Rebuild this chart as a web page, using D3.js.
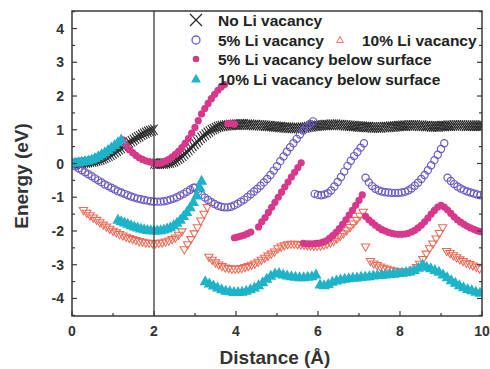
<!DOCTYPE html>
<html>
<head>
<meta charset="utf-8">
<script src="https://cdn.jsdelivr.net/npm/d3@7"></script>
<style>
  html, body { margin: 0; padding: 0; background: #fff; }
  svg { display: block; font-family: "Liberation Sans", Arial, sans-serif; }
</style>
</head>
<body>
<svg id="chart"></svg>
<script>
// every series is a list of runs: [start distance (Å), step, energies (eV)]
const noVacancy = [
  [0, 0.05, [0.00,0.00,0.00,0.01,0.01,0.02,0.03,0.03,0.04,0.05,0.06,0.07,0.09,0.10,0.12,0.15,0.17,0.20,0.23,0.26,
    0.30,0.34,0.38,0.42,0.46,0.50,0.54,0.58,0.62,0.66,0.70,0.74,0.78,0.81,0.85,0.88,0.91,0.94,0.96,0.98,1.00]],
  [2.0, 0.05, [0.00,-0.01,-0.01,-0.01,0.00,0.00,0.01,0.02,0.03,
    0.05,0.07,0.10,0.14,0.18,0.23,0.28,0.34,0.40,0.46,0.52,0.58,0.64,0.70,0.76,0.81,0.86,0.91,0.95,0.99,1.02,1.05,1.08,1.10,1.11,1.12,1.13,1.13,
    1.14,1.14,1.15,1.15,1.15,1.16,1.16,1.16,1.15,1.15,1.15,1.14,1.14,1.14,1.13,1.13,1.13,1.12,1.12,1.11,1.11,1.10,1.10,1.09,
    1.08,1.08,1.07,1.07,1.06,1.06,1.05,1.05,1.05,1.05,1.05,1.06,1.06,1.07,1.08,1.09,1.10,1.11,1.12,1.12,
    1.13,1.13,1.14,1.14,1.14,1.15,1.15,1.15,1.15,1.14,1.14,1.14,1.13,1.13,1.12,1.12,1.11,1.11,1.10,1.10,
    1.09,1.09,1.08,1.08,1.08,1.07,1.07,1.07,1.07,1.07,1.07,1.08,1.08,1.08,1.09,1.09,1.10,1.10,1.11,1.11,
    1.12,1.12,1.12,1.13,1.13,1.13,1.13,1.13,1.12,1.12,1.12,1.11,1.11,1.11,1.10,1.10,1.10,1.10,1.10,1.11,
    1.11,1.11,1.12,1.12,1.12,1.13,1.13,1.13,1.13,1.13,1.13,1.12,1.12,1.12,1.12,1.12,1.12,1.12,1.12,1.12]]
];

const vacancy5 = [
  [0, 0.08, [-0.02,-0.08,-0.14,-0.20,-0.26,-0.32,-0.38,-0.44,-0.50,-0.56,-0.62,-0.67,-0.72,-0.77,-0.82,-0.86,-0.90,-0.94,-0.98,
    -1.01,-1.04,-1.06,-1.08,-1.10,-1.12,-1.13,-1.13,-1.13,-1.12,-1.10,-1.07,-1.04,-1.00,-0.95,-0.90,-0.84,-0.78,-0.72]],
  [3.0, 0.08, [-0.72,-0.83,-0.93,-1.01,-1.08,-1.15,-1.20,-1.25,-1.28,-1.30,-1.30,-1.28,-1.24,-1.19,-1.13,-1.07,-0.99,-0.91,-0.83,
    -0.75,-0.66,-0.56,-0.46,-0.34,-0.21,-0.08,0.07,0.21,0.35,0.48,0.60,0.73,0.86,0.98,1.08,1.17,1.25]],
  [5.92, 0.08, [-0.90,-0.93,-0.94,-0.92,-0.88,-0.80,-0.68,-0.55,-0.40,-0.24,-0.07,0.08,0.22,0.34,0.47,0.60]],
  [7.16, 0.08, [-0.42,-0.56,-0.67,-0.75,-0.80,-0.83,-0.85,-0.86,-0.87,-0.87,-0.87,-0.86,-0.84,-0.80,-0.74,-0.66,-0.57,
    -0.46,-0.34,-0.20,-0.05,0.10,0.26,0.43,0.60]],
  [9.16, 0.08, [-0.42,-0.52,-0.61,-0.68,-0.74,-0.79,-0.83,-0.86,-0.89,-0.92,-0.94]]
];

const vacancy10 = [
  [0.28, 0.08, [-1.39,-1.47,-1.54,-1.61,-1.68,-1.75,-1.82,-1.88,-1.94,-2.00,-2.05,-2.10,-2.14,-2.18,-2.22,-2.25,-2.28,-2.31,
    -2.33,-2.35,-2.36,-2.37,-2.37,-2.36,-2.35,-2.32,-2.29,-2.25,-2.20,-2.12,-2.02]],
  [2.74, 0.08, [-2.55,-2.40,-2.25,-2.08,-1.90,-1.70,-1.50,-1.30]],
  [3.34, 0.08, [-2.77,-2.86,-2.94,-3.00,-3.05,-3.09,-3.11,-3.13,-3.13,-3.12,-3.11,-3.08,-3.05,-3.01,-2.97,-2.92,-2.86,-2.80,
    -2.74,-2.68,-2.62,-2.52,-2.47,-2.43,-2.40,-2.39,-2.39,-2.40,-2.41,-2.42,-2.43,-2.44,-2.45,-2.45,-2.44,-2.42,-2.39,-2.35,
    -2.30,-2.23,-2.16,-2.08,-1.99,-1.89,-1.79,-1.68,-1.56,-1.44]],
  [7.16, 0.08, [-2.47]],
  [7.28, 0.08, [-2.90,-2.97,-3.02,-3.06,-3.10,-3.13,-3.16,-3.18,-3.20,-3.21,-3.22,-3.22,-3.20,-3.15,-3.08,-2.98,-2.84,-2.68,
    -2.52,-2.38,-2.23,-2.07,-1.90]],
  [9.14, 0.08, [-2.60,-2.66,-2.73,-2.79,-2.85,-2.90,-2.95,-2.99,-3.03,-3.07,-3.12]]
];

const vacancy5Below = [
  [1.24, 0.08, [0.70,0.54,0.41,0.32,0.24,0.17,0.12,0.08,0.05,0.02,0.00,0.00,0.03,0.07,0.12,0.19,0.27,0.36,0.47,0.60,0.74,
    0.90,1.07,1.27,1.47,1.63,1.78,1.92,2.05,2.17,2.27,2.34]],
  [3.80, 0.08, [1.18,1.18,1.17]],
  [3.96, 0.08, [-2.20,-2.18,-2.15,-2.12,-2.08,-2.03]],
  [4.55, 0.08, [-1.88,-1.73,-1.60,-1.45,-1.30,-1.15,-1.00,-0.85,-0.70,-0.55,-0.40,-0.26,-0.12,0.02]],
  [5.64, 0.08, [-2.37,-2.38,-2.38,-2.38,-2.37,-2.36,-2.33,-2.29,-2.22,-2.14,-2.04,-1.93,-1.80,-1.67,-1.53,-1.39,-1.24,-1.09,-0.93]],
  [7.16, 0.08, [-1.57,-1.67,-1.75,-1.83,-1.90,-1.96,-2.00,-2.04,-2.07,-2.09,-2.10,-2.10,-2.09,-2.07,-2.03,-1.98,-1.91,-1.83,
    -1.73,-1.62,-1.50,-1.39,-1.29,-1.24,-1.29,-1.38,-1.48,-1.58,-1.67,-1.74,-1.80,-1.86,-1.91,-1.95,-1.99,-2.02]]
];

const vacancy10Below = [
  [0, 0.08, [0.02,0.02,0.03,0.04,0.06,0.08,0.11,0.15,0.20,0.26,0.32,0.39,0.46,0.54,0.62,0.70]],
  [1.12, 0.08, [-1.68,-1.72,-1.76,-1.80,-1.84,-1.88,-1.91,-1.94,-1.96,-1.98,-1.99,-2.00,-2.00,-1.99,-1.97,-1.94,-1.90,-1.84,
    -1.77,-1.68,-1.57,-1.45,-1.31,-1.15,-0.96,-0.72]],
  [3.16, 0.08, [-0.52]],
  [3.25, 0.1, [-3.50,-3.57,-3.63,-3.69,-3.74,-3.78,-3.80,-3.82,-3.82,-3.81,-3.78,-3.74,-3.69,-3.62,-3.53,-3.43,-3.34,-3.27,
    -3.26,-3.30,-3.33,-3.35,-3.37,-3.38,-3.38,-3.37,-3.35,-3.30,-3.60,-3.62,-3.58,-3.52,-3.48,-3.45,-3.43,-3.41,-3.40,-3.39,
    -3.37,-3.36,-3.35,-3.33,-3.32,-3.31,-3.30,-3.29,-3.28,-3.26,-3.25,-3.23,-3.21,-3.17,-3.10,-3.00,-3.07,-3.12,-3.17,-3.22,
    -3.30,-3.38,-3.47,-3.55,-3.62,-3.68,-3.73,-3.77,-3.81,-3.84]]
];

const seriesNames = [
  'No Li vacancy',
  '5% Li vacancy',
  '10% Li vacancy',
  '5% Li vacancy below surface',
  '10% Li vacancy below surface'
];
const xTicks = [0, 2, 4, 6, 8, 10];
const yTicks = [-4, -3, -2, -1, 0, 1, 2, 3, 4];

const width = 490;
const height = 369;
const margin = { top: 11, right: 8, bottom: 53, left: 72 };
const plotW = width - margin.left - margin.right;
const plotH = height - margin.top - margin.bottom;

const x = d3.scaleLinear().domain([0, 10]).range([margin.left, margin.left + plotW]);
const y = d3.scaleLinear().domain([-4.52, 4.52]).range([margin.top + plotH, margin.top]);

const toPoints = runs => runs.flatMap(([x0, dx, ys]) => ys.map((v, i) => ({ x: x0 + i * dx, y: v })));

// marker shapes
const shapes = {
  cross: 'M-3.6,-5.2L3.6,5.2M-3.6,5.2L3.6,-5.2',
  circle: d3.symbol().type(d3.symbolCircle).size(Math.PI * 3.6 * 3.6)(),
  triDown: 'M-4.2,-2.8L4.2,-2.8L0,4.4Z',
  dot: d3.symbol().type(d3.symbolCircle).size(Math.PI * 3.6 * 3.6)(),
  triUp: 'M0,-6.4L5.6,3.6L-5.6,3.6Z'
};

const series = [
  { name: seriesNames[0], runs: noVacancy, shape: 'cross', fill: 'none', stroke: '#262626', sw: 1.05 },
  { name: seriesNames[1], runs: vacancy5, shape: 'circle', fill: 'none', stroke: '#6b5bc8', sw: 1.2 },
  { name: seriesNames[2], runs: vacancy10, shape: 'triDown', fill: 'none', stroke: '#ef6a56', sw: 1.05 },
  { name: seriesNames[3], runs: vacancy5Below, shape: 'dot', fill: '#d8388b', stroke: 'none', sw: 0 },
  { name: seriesNames[4], runs: vacancy10Below, shape: 'triUp', fill: '#1db3c8', stroke: 'none', sw: 0 }
];

const svg = d3.select('#chart').attr('width', width).attr('height', height);

svg.append('rect')
  .attr('width', width)
  .attr('height', height)
  .attr('fill', '#fff');

svg.append('defs').append('clipPath')
  .attr('id', 'plot-clip')
  .append('rect')
  .attr('x', margin.left)
  .attr('y', margin.top)
  .attr('width', plotW)
  .attr('height', plotH);

const marks = svg.append('g').attr('clip-path', 'url(#plot-clip)');

series.forEach(s => {
  marks.append('g')
    .selectAll('path')
    .data(toPoints(s.runs))
    .join('path')
    .attr('transform', d => `translate(${x(d.x)},${y(d.y)})`)
    .attr('d', shapes[s.shape])
    .attr('fill', s.fill)
    .attr('stroke', s.stroke)
    .attr('stroke-width', s.sw);
});

// vertical guide at 2 Å
svg.append('line')
  .attr('x1', x(2)).attr('x2', x(2))
  .attr('y1', margin.top).attr('y2', margin.top + plotH)
  .attr('stroke', '#3a3a3a')
  .attr('stroke-width', 1.3);

// frame
svg.append('rect')
  .attr('x', margin.left)
  .attr('y', margin.top)
  .attr('width', plotW)
  .attr('height', plotH)
  .attr('fill', 'none')
  .attr('stroke', '#3a3a3a')
  .attr('stroke-width', 1.5);

// inward ticks
const ticks = svg.append('g').attr('stroke', '#3a3a3a').attr('stroke-width', 1.2);
d3.range(-4.5, 4.51, 0.5).forEach(v => {
  const len = Number.isInteger(v) ? 5 : 3;
  ticks.append('line').attr('x1', x(0)).attr('x2', x(0) + len).attr('y1', y(v)).attr('y2', y(v));
  ticks.append('line').attr('x1', x(10)).attr('x2', x(10) - len).attr('y1', y(v)).attr('y2', y(v));
});
d3.range(0, 10.01, 1).forEach(v => {
  const len = v % 2 === 0 ? 5 : 3;
  ticks.append('line').attr('x1', x(v)).attr('x2', x(v)).attr('y1', y.range()[0]).attr('y2', y.range()[0] - len);
});

// tick labels
svg.append('g')
  .selectAll('text')
  .data(xTicks)
  .join('text')
  .attr('x', d => x(d))
  .attr('y', 336)
  .attr('text-anchor', 'middle')
  .attr('font-size', 14)
  .attr('font-weight', 'bold')
  .attr('fill', '#333')
  .text(d => d);

svg.append('g')
  .selectAll('text')
  .data(yTicks)
  .join('text')
  .attr('x', 64)
  .attr('y', d => y(d))
  .attr('dy', '0.36em')
  .attr('text-anchor', 'end')
  .attr('font-size', 14)
  .attr('font-weight', 'bold')
  .attr('fill', '#333')
  .text(d => d);

// axis titles
svg.append('text')
  .attr('x', 275)
  .attr('y', 364)
  .attr('text-anchor', 'middle')
  .attr('font-size', 19)
  .attr('font-weight', 'bold')
  .attr('fill', '#333')
  .text('Distance (Å)');

svg.append('text')
  .attr('transform', 'translate(28,176) rotate(-90)')
  .attr('text-anchor', 'middle')
  .attr('font-size', 19)
  .attr('font-weight', 'bold')
  .attr('fill', '#333')
  .text('Energy (eV)');

// legend
const legendItems = [
  { s: series[0], x: 196, y: 20, shape: 'M-6,-6L6,6M-6,6L6,-6', sw: 1.2 },
  { s: series[1], x: 196, y: 40, shape: d3.symbol().type(d3.symbolCircle).size(Math.PI * 16)(), sw: 1.3 },
  { s: series[2], x: 340, y: 40, shape: 'M0,-3.4L3.4,2.6L-3.4,2.6Z', sw: 1 },
  { s: series[3], x: 196, y: 59, shape: d3.symbol().type(d3.symbolCircle).size(Math.PI * 3.3 * 3.3)(), sw: 0 },
  { s: series[4], x: 196, y: 79, shape: 'M0,-5.2L5,3.4L-5,3.4Z', sw: 0 }
];

const legendG = svg.append('g').attr('id', 'legend');
legendItems.forEach(it => {
  legendG.append('path')
    .attr('transform', `translate(${it.x},${it.y})`)
    .attr('d', it.shape)
    .attr('fill', it.s.fill)
    .attr('stroke', it.s.stroke)
    .attr('stroke-width', it.sw);
  legendG.append('text')
    .attr('x', it.x + 22)
    .attr('y', it.y + 5.6)
    .attr('font-size', 15.5)
    .attr('font-weight', 'bold')
    .attr('fill', '#222')
    .text(it.s.name);
});
</script>
</body>
</html>
